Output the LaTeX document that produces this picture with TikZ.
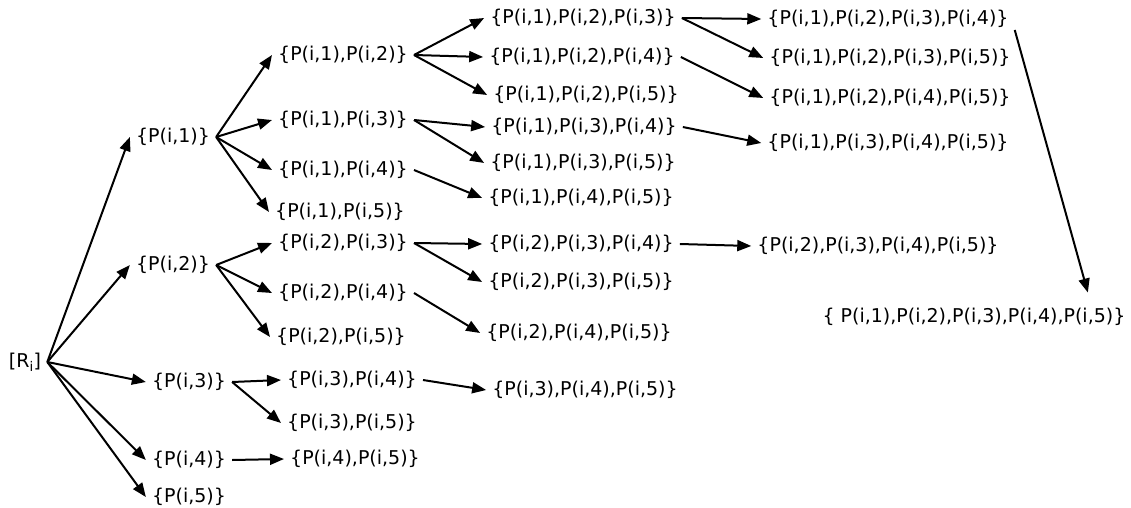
\documentclass[tikz,border=0pt]{standalone}
\usepackage{fontspec}
\setmainfont{DejaVu Sans}
\usetikzlibrary{arrows.meta}
\tikzset{
  set/.style={inner xsep=6pt, inner ysep=2pt, font=\fontsize{19}{23}\selectfont},
  arr/.style={line width=2pt, -{Triangle[length=14pt,width=11pt]}}
}

\begin{document}
\begin{tikzpicture}[x=1pt,y=-1pt]
  \useasboundingbox (0,0) rectangle (1131,508);

  \node[set] (r) at (25,362) {[R\textsubscript{i}]};

  \node[set] (p1) at (173,137) {\{P(i,1)\}};
  \node[set] (p2) at (173,265) {\{P(i,2)\}};
  \node[set] (p3) at (189,382) {\{P(i,3)\}};
  \node[set] (p4) at (189,460) {\{P(i,4)\}};
  \node[set] (p5) at (189,497) {\{P(i,5)\}};

  \node[set] (p12) at (343,55) {\{P(i,1),P(i,2)\}};
  \node[set] (p13) at (343,120) {\{P(i,1),P(i,3)\}};
  \node[set] (p14) at (343,170) {\{P(i,1),P(i,4)\}};
  \node[set] (p15) at (340,212) {\{P(i,1),P(i,5)\}};
  \node[set] (p23) at (343,243) {\{P(i,2),P(i,3)\}};
  \node[set] (p24) at (343,293) {\{P(i,2),P(i,4)\}};
  \node[set] (p25) at (341,337) {\{P(i,2),P(i,5)\}};
  \node[set] (p34) at (352,380) {\{P(i,3),P(i,4)\}};
  \node[set] (p35) at (352,423) {\{P(i,3),P(i,5)\}};
  \node[set] (p45) at (355,459) {\{P(i,4),P(i,5)\}};

  \node[set] (p123) at (583,18) {\{P(i,1),P(i,2),P(i,3)\}};
  \node[set] (p124) at (582,57) {\{P(i,1),P(i,2),P(i,4)\}};
  \node[set] (p125) at (586,95) {\{P(i,1),P(i,2),P(i,5)\}};
  \node[set] (p134) at (584,127) {\{P(i,1),P(i,3),P(i,4)\}};
  \node[set] (p135) at (583,163) {\{P(i,1),P(i,3),P(i,5)\}};
  \node[set] (p145) at (581,198) {\{P(i,1),P(i,4),P(i,5)\}};
  \node[set] (p234) at (581,244) {\{P(i,2),P(i,3),P(i,4)\}};
  \node[set] (p235) at (581,282) {\{P(i,2),P(i,3),P(i,5)\}};
  \node[set] (p245) at (579,333) {\{P(i,2),P(i,4),P(i,5)\}};
  \node[set] (p345) at (585,390) {\{P(i,3),P(i,4),P(i,5)\}};

  \node[set] (p1234) at (888,19) {\{P(i,1),P(i,2),P(i,3),P(i,4)\}};
  \node[set] (p1235) at (890,58) {\{P(i,1),P(i,2),P(i,3),P(i,5)\}};
  \node[set] (p1245) at (890,98) {\{P(i,1),P(i,2),P(i,4),P(i,5)\}};
  \node[set] (p1345) at (888,143) {\{P(i,1),P(i,3),P(i,4),P(i,5)\}};
  \node[set] (p2345) at (878,246) {\{P(i,2),P(i,3),P(i,4),P(i,5)\}};

  \node[set] (p12345) at (974,317) {\{ P(i,1),P(i,2),P(i,3),P(i,4),P(i,5)\}};

  \draw[arr] (r.east) -- (p1.west);
  \draw[arr] (r.east) -- (p2.west);
  \draw[arr] (r.east) -- (p3.west);
  \draw[arr] (r.east) -- (p4.west);
  \draw[arr] (r.east) -- (p5.west);

  \draw[arr] (p1.east) -- (p12.west);
  \draw[arr] (p1.east) -- (p13.west);
  \draw[arr] (p1.east) -- (p14.west);
  \draw[arr] (p1.east) -- (p15.west);
  \draw[arr] (p2.east) -- (p23.west);
  \draw[arr] (p2.east) -- (p24.west);
  \draw[arr] (p2.east) -- (p25.west);
  \draw[arr] (p3.east) -- (p34.west);
  \draw[arr] (p3.east) -- (p35.west);
  \draw[arr] (p4.east) -- (p45.west);

  \draw[arr] (p12.east) -- (p123.west);
  \draw[arr] (p12.east) -- (p124.west);
  \draw[arr] (p12.east) -- (p125.west);
  \draw[arr] (p13.east) -- (p134.west);
  \draw[arr] (p13.east) -- (p135.west);
  \draw[arr] (p14.east) -- (p145.west);
  \draw[arr] (p23.east) -- (p234.west);
  \draw[arr] (p23.east) -- (p235.west);
  \draw[arr] (p24.east) -- (p245.west);
  \draw[arr] (p34.east) -- (p345.west);

  \draw[arr] (p123.east) -- (p1234.west);
  \draw[arr] (p123.east) -- (p1235.west);
  \draw[arr] (p124.east) -- (p1245.west);
  \draw[arr] (p134.east) -- (p1345.west);
  \draw[arr] (p234.east) -- (p2345.west);

  \draw[arr, shorten >=14pt] (p1234.south east) -- ([xshift=-40pt]p12345.north east);
\end{tikzpicture}
\end{document}
